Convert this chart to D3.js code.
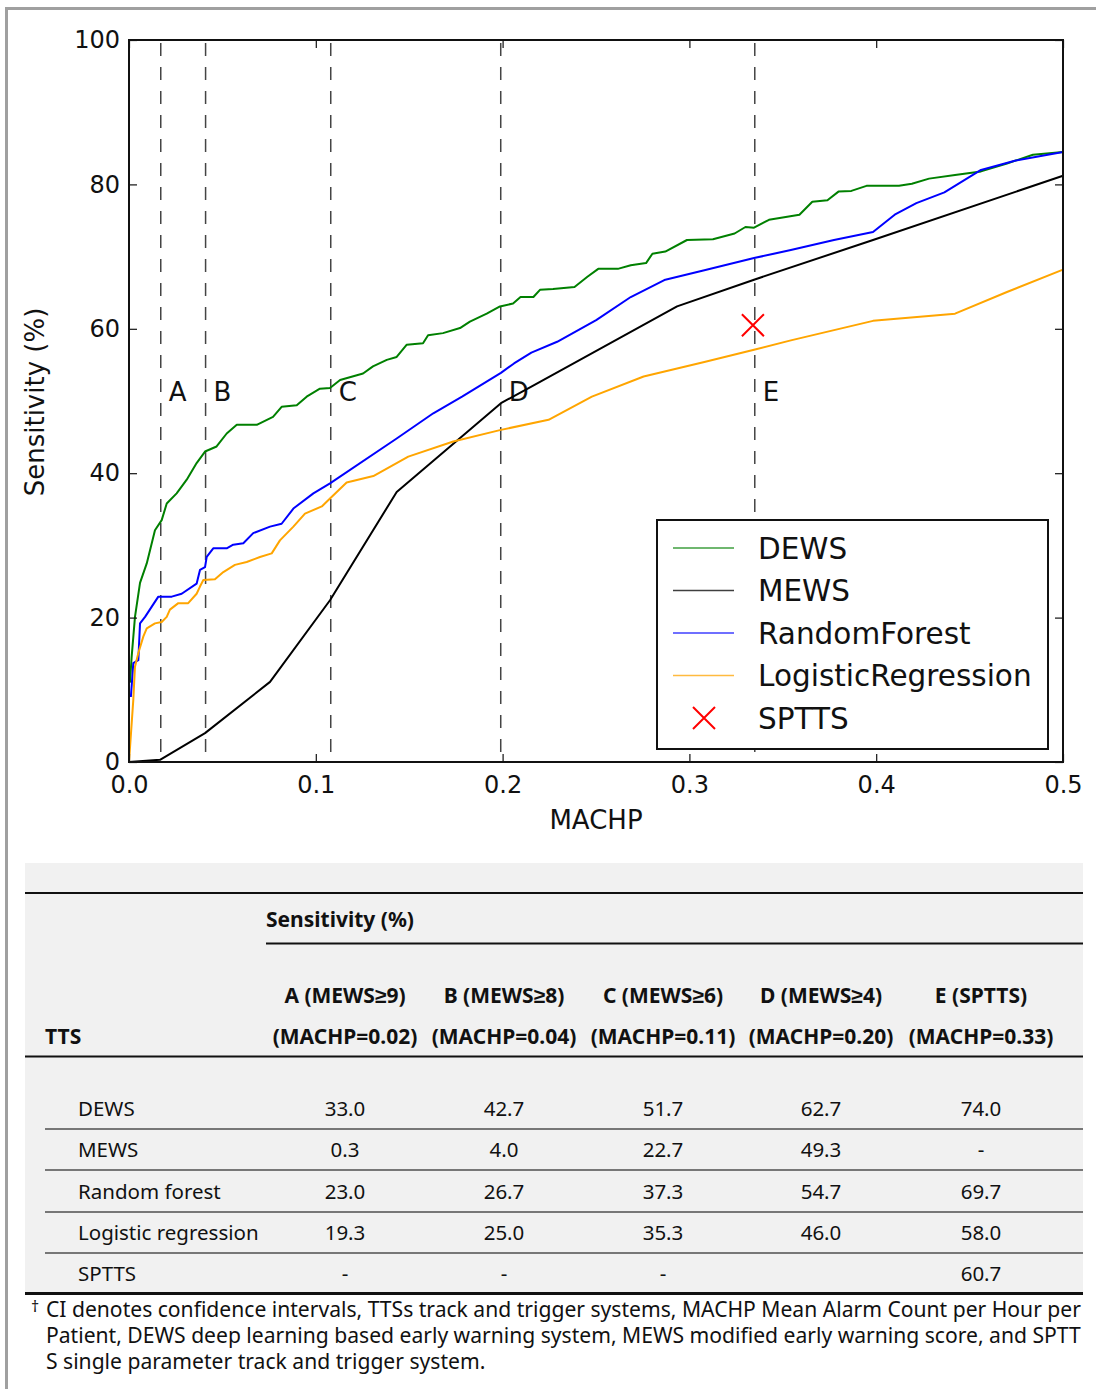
<!DOCTYPE html>
<html>
<head>
<meta charset="utf-8">
<script src="https://cdn.jsdelivr.net/npm/d3@7/dist/d3.min.js"></script>
<style>
body { margin: 0; background: #fff; }
.plot text { font-family: "DejaVu Sans", sans-serif; fill: #111; }
.tbl text { font-family: "Noto Sans", sans-serif; fill: #111; }
</style>
</head>
<body>
<svg id="chart" width="1096" height="1389"></svg>
<script>
// axis ticks
const machpTicks = [0, 0.1, 0.2, 0.3, 0.4, 0.5];
const sensTicks = [0, 20, 40, 60, 80, 100];

// operating points A-E (MACHP position of the dashed lines)
const pointNames = ["A", "B", "C", "D", "E"];
const pointMachp = [0.017, 0.041, 0.108, 0.199, 0.335];

// curves: [MACHP, sensitivity]
const dewsCurve = [[0.0005, 11], [0.0014, 14.5], [0.0032, 20.1], [0.0059, 24.8], [0.0095, 27.5], [0.0139, 32.1],
  [0.0175, 33.5], [0.0202, 35.8], [0.0255, 37.2], [0.0309, 39.1], [0.0362, 41.4], [0.0407, 43.0],
  [0.0469, 43.7], [0.0523, 45.5], [0.0577, 46.7], [0.0684, 46.7], [0.0771, 47.8], [0.0817, 49.2],
  [0.0898, 49.4], [0.0951, 50.6], [0.1022, 51.7], [0.1076, 51.8], [0.113, 52.9], [0.1253, 53.8],
  [0.1306, 54.8], [0.138, 55.7], [0.1433, 56.1], [0.1487, 57.8], [0.1574, 58.0], [0.1601, 59.1],
  [0.1681, 59.4], [0.1772, 60.1], [0.1825, 61.0], [0.1915, 62.1], [0.1986, 63.1], [0.2056, 63.5],
  [0.2096, 64.4], [0.2165, 64.4], [0.22, 65.4], [0.227, 65.5], [0.2385, 65.8], [0.2454, 67.2],
  [0.2512, 68.3], [0.2617, 68.3], [0.2686, 68.8], [0.2768, 69.1], [0.2802, 70.4], [0.2871, 70.7],
  [0.2987, 72.3], [0.3126, 72.4], [0.3242, 73.2], [0.33, 74.1], [0.3346, 74.0], [0.3426, 75.1],
  [0.3589, 75.8], [0.3658, 77.6], [0.3739, 77.8], [0.3798, 79.0], [0.3867, 79.1], [0.3948, 79.8],
  [0.4122, 79.8], [0.4191, 80.1], [0.4283, 80.8], [0.4422, 81.3], [0.4561, 81.8], [0.47, 82.9],
  [0.4839, 84.1], [0.5, 84.5]];

const mewsCurve = [[0, 0], [0.0166, 0.3], [0.0407, 4.0], [0.0755, 11.1], [0.1076, 22.4], [0.1433, 37.4],
  [0.176, 44.6], [0.1991, 49.7], [0.2154, 52.0], [0.2934, 63.1], [0.3346, 66.8], [0.3983, 72.3], [0.5, 81.2]];

const rfCurve = [[0.001, 9.0], [0.0023, 13.7], [0.005, 14.1], [0.0059, 19.2], [0.0086, 20.1], [0.0157, 22.9],
  [0.0229, 22.9], [0.0282, 23.3], [0.0362, 24.7], [0.038, 26.6], [0.0407, 27.0], [0.0416, 28.4],
  [0.0451, 29.6], [0.0523, 29.6], [0.0558, 30.1], [0.0612, 30.3], [0.0665, 31.7], [0.0755, 32.6],
  [0.0817, 33.0], [0.088, 35.1], [0.0987, 37.2], [0.1076, 38.6], [0.1433, 44.8], [0.1629, 48.3],
  [0.1783, 50.6], [0.1991, 53.9], [0.2061, 55.2], [0.2154, 56.7], [0.2292, 58.2], [0.2501, 61.2],
  [0.2686, 64.4], [0.2871, 66.8], [0.308, 68.1], [0.3346, 69.8], [0.3543, 70.9], [0.3774, 72.3],
  [0.3983, 73.4], [0.4099, 75.8], [0.4215, 77.4], [0.4365, 78.9], [0.4561, 82.0], [0.4747, 83.3], [0.5, 84.5]];

const lrCurve = [[0, 0], [0.0023, 8.6], [0.0032, 13.2], [0.005, 15.1], [0.0077, 17.4], [0.0095, 18.5],
  [0.0139, 19.2], [0.0175, 19.4], [0.0202, 20.1], [0.0219, 21.1], [0.0264, 22.0], [0.0317, 22.0],
  [0.0362, 23.3], [0.038, 24.3], [0.0398, 25.2], [0.046, 25.3], [0.0505, 26.3], [0.0567, 27.3],
  [0.063, 27.7], [0.0701, 28.4], [0.0764, 28.9], [0.0808, 30.7], [0.088, 32.6], [0.0942, 34.4],
  [0.1032, 35.4], [0.1076, 36.5], [0.1165, 38.7], [0.1308, 39.6], [0.1495, 42.3], [0.1736, 44.4],
  [0.1991, 46.0], [0.2246, 47.4], [0.2478, 50.6], [0.2755, 53.4], [0.308, 55.4], [0.3346, 57.1],
  [0.3543, 58.4], [0.3983, 61.1], [0.4422, 62.1], [0.47, 65.1], [0.5, 68.2]];

const spttsPoint = [0.334, 60.5];

const seriesNames = ["DEWS", "MEWS", "RandomForest", "LogisticRegression"];
const seriesColors = ["#008000", "#000000", "#0000ff", "#ffa500"];
const seriesCurves = [dewsCurve, mewsCurve, rfCurve, lrCurve];

// table
const colHead1 = ["A (MEWS\u22659)", "B (MEWS\u22658)", "C (MEWS\u22656)", "D (MEWS\u22654)", "E (SPTTS)"];
const colHead2 = ["(MACHP=0.02)", "(MACHP=0.04)", "(MACHP=0.11)", "(MACHP=0.20)", "(MACHP=0.33)"];
const rowNames = ["DEWS", "MEWS", "Random forest", "Logistic regression", "SPTTS"];
const tableValues = [
  ["33.0", "42.7", "51.7", "62.7", "74.0"],
  ["0.3", "4.0", "22.7", "49.3", "-"],
  ["23.0", "26.7", "37.3", "54.7", "69.7"],
  ["19.3", "25.0", "35.3", "46.0", "58.0"],
  ["-", "-", "-", "", "60.7"]
];
const footLines = [
  "CI denotes confidence intervals, TTSs track and trigger systems, MACHP Mean Alarm Count per Hour per",
  "Patient, DEWS deep learning based early warning system, MEWS modified early warning score, and SPTT",
  "S single parameter track and trigger system."
];

const svg = d3.select("#chart");

// page frame (grey rules at left and top)
svg.append("line").attr("x1", 6.5).attr("x2", 6.5).attr("y1", 7).attr("y2", 1389)
  .attr("stroke", "#a0a0a0").attr("stroke-width", 3);
svg.append("line").attr("x1", 5).attr("x2", 1096).attr("y1", 8.5).attr("y2", 8.5)
  .attr("stroke", "#a0a0a0").attr("stroke-width", 3);

// ---------- plot ----------
const x = d3.scaleLinear().domain([0, 0.5]).range([129, 1063]);
const y = d3.scaleLinear().domain([0, 100]).range([762, 40]);
const plot = svg.append("g").attr("class", "plot");

// dashed operating point lines
plot.selectAll(".vline").data(pointMachp).enter().append("line")
  .attr("class", "vline")
  .attr("x1", d => x(d)).attr("x2", d => x(d))
  .attr("y1", y(100)).attr("y2", y(0))
  .attr("stroke", "#444").attr("stroke-width", 1.5)
  .attr("stroke-dasharray", "13,11").attr("stroke-dashoffset", -3);

plot.selectAll(".plabel").data(pointNames).enter().append("text")
  .attr("class", "plabel")
  .attr("x", (d, i) => x(pointMachp[i]) + 8)
  .attr("y", y(50))
  .attr("font-size", 26)
  .text(d => d);

const line = d3.line().x(d => x(d[0])).y(d => y(d[1]));
plot.selectAll(".curve").data(seriesCurves).enter().append("path")
  .attr("class", "curve")
  .attr("d", line)
  .attr("fill", "none")
  .attr("stroke", (d, i) => seriesColors[i])
  .attr("stroke-width", 2)
  .attr("stroke-linejoin", "round");

function cross(g, cx, cy, r) {
  g.append("path")
    .attr("d", `M${cx - r},${cy - r}L${cx + r},${cy + r}M${cx - r},${cy + r}L${cx + r},${cy - r}`)
    .attr("stroke", "#ff0000").attr("stroke-width", 2).attr("fill", "none");
}
cross(plot, x(spttsPoint[0]), y(spttsPoint[1]), 11);

// legend
const leg = plot.append("g");
leg.append("rect").attr("x", 657).attr("y", 520).attr("width", 391).attr("height", 229)
  .attr("fill", "#fff").attr("stroke", "#111").attr("stroke-width", 2);
const legRows = seriesNames.concat(["SPTTS"]);
legRows.forEach((name, i) => {
  const ly = 548 + i * 42.5;
  if (i < 4) {
    leg.append("line").attr("x1", 673).attr("x2", 734).attr("y1", ly).attr("y2", ly)
      .attr("stroke", seriesColors[i]).attr("stroke-width", 1.5).attr("opacity", 0.75);
  } else {
    cross(leg, 704, ly, 11);
  }
  leg.append("text").attr("x", 758).attr("y", ly).attr("dy", "0.36em")
    .attr("font-size", 29.5).text(name);
});

// axes with inward ticks on all four sides
const fmtX = d3.format(".1f");
plot.append("g").attr("transform", `translate(0,${y(0)})`)
  .call(d3.axisBottom(x).tickValues(machpTicks).tickSize(-8).tickPadding(14).tickFormat(fmtX))
  .call(g => g.select(".domain").remove());
plot.append("g").attr("transform", `translate(0,${y(100)})`)
  .call(d3.axisTop(x).tickValues(machpTicks).tickSize(-8).tickFormat(""))
  .call(g => g.select(".domain").remove());
plot.append("g").attr("transform", `translate(${x(0)},0)`)
  .call(d3.axisLeft(y).tickValues(sensTicks).tickSize(-8).tickPadding(9))
  .call(g => g.select(".domain").remove());
plot.append("g").attr("transform", `translate(${x(0.5)},0)`)
  .call(d3.axisRight(y).tickValues(sensTicks).tickSize(-8).tickFormat(""))
  .call(g => g.select(".domain").remove());
plot.selectAll(".tick line").attr("stroke", "#111").attr("stroke-width", 1.2);
plot.selectAll(".tick text").attr("font-size", 24).attr("font-family", "DejaVu Sans").attr("fill", "#111");

plot.append("rect").attr("x", x(0)).attr("y", y(100))
  .attr("width", x(0.5) - x(0)).attr("height", y(0) - y(100))
  .attr("fill", "none").attr("stroke", "#111").attr("stroke-width", 2);

plot.append("text").attr("x", 596).attr("y", 829).attr("text-anchor", "middle")
  .attr("font-size", 26).text("MACHP");
plot.append("text").attr("transform", "translate(44,402) rotate(-90)").attr("text-anchor", "middle")
  .attr("font-size", 26).text("Sensitivity (%)");

// ---------- table ----------
const tbl = svg.append("g").attr("class", "tbl");
const colX = [345, 504, 663, 821, 981];
const rowY = [1109, 1150, 1192, 1233, 1274];

tbl.append("rect").attr("x", 25).attr("y", 863).attr("width", 1058).attr("height", 430).attr("fill", "#f1f1f1");

function rule(x1, x2, yy, col, w) {
  tbl.append("line").attr("x1", x1).attr("x2", x2).attr("y1", yy).attr("y2", yy)
    .attr("stroke", col).attr("stroke-width", w);
}
rule(25, 1083, 893, "#111", 2);
rule(266, 1083, 943.5, "#111", 2);
rule(25, 1083, 1056.5, "#111", 2);
rowY.slice(0, 4).forEach(ry => rule(45, 1083, ry + 20, "#777", 2));
rule(25, 1083, 1293.5, "#111", 3);

tbl.append("text").attr("x", 266).attr("y", 920).attr("dy", "0.35em")
  .attr("font-size", 21).attr("font-weight", "bold").text("Sensitivity (%)");
tbl.append("text").attr("x", 45).attr("y", 1037).attr("dy", "0.35em")
  .attr("font-size", 21).attr("font-weight", "bold").text("TTS");
tbl.selectAll(".h1").data(colHead1).enter().append("text")
  .attr("x", (d, i) => colX[i]).attr("y", 996).attr("dy", "0.35em").attr("text-anchor", "middle")
  .attr("font-size", 21).attr("font-weight", "bold").text(d => d);
tbl.selectAll(".h2").data(colHead2).enter().append("text")
  .attr("x", (d, i) => colX[i]).attr("y", 1037).attr("dy", "0.35em").attr("text-anchor", "middle")
  .attr("font-size", 21).attr("font-weight", "bold").text(d => d);

rowNames.forEach((name, r) => {
  tbl.append("text").attr("x", 78).attr("y", rowY[r]).attr("dy", "0.35em")
    .attr("font-size", 20.5).text(name);
  tableValues[r].forEach((v, c) => {
    tbl.append("text").attr("x", colX[c]).attr("y", rowY[r]).attr("dy", "0.35em")
      .attr("text-anchor", "middle").attr("font-size", 20.5).text(v);
  });
});

// footnote
tbl.append("text").attr("x", 31).attr("y", 1312).attr("font-size", 16).text("\u2020");
footLines.forEach((t, i) => {
  tbl.append("text").attr("x", 46).attr("y", 1310 + i * 26).attr("dy", "0.35em")
    .attr("font-size", 21.1).text(t);
});
</script>
</body>
</html>
